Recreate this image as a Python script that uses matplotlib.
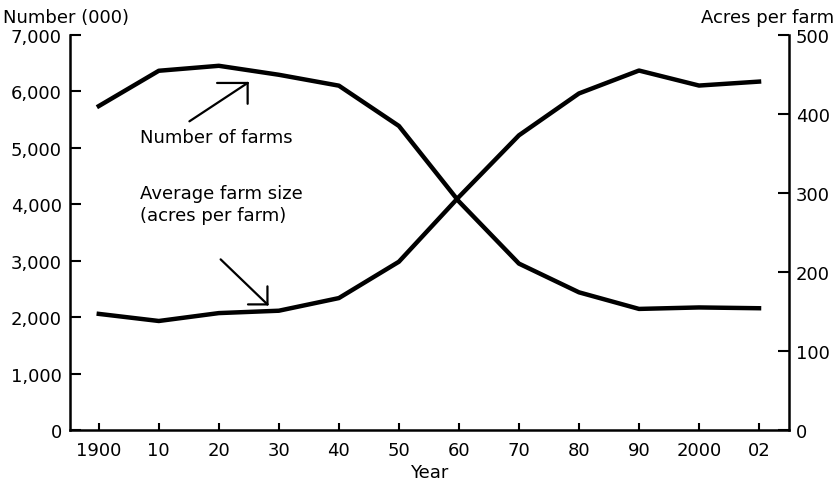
import matplotlib
matplotlib.use("Agg")
import matplotlib.pyplot as plt

years = ["1900", "10", "20", "30", "40", "50", "60", "70", "80", "90", "2000", "02"]
num_farms = [5740, 6366, 6454, 6295, 6102, 5388, 4050, 2949, 2440, 2146, 2172, 2158]
farm_size = [147, 138, 148, 151, 167, 213, 295, 373, 426, 455, 436, 441]

plt.rcParams['font.family'] = ['DejaVu Sans']
FS = 13

fig = plt.figure(figsize=(8.37, 4.85), dpi=100)
ax = fig.add_axes([0.0836, 0.1113, 0.8591, 0.8145])
ax2 = ax.twinx()

x = list(range(len(years)))
ax.plot(x, num_farms, color='black', lw=3.2, solid_joinstyle='round')
ax2.plot(x, farm_size, color='black', lw=3.2, solid_joinstyle='round')

ax.set_xlim(-0.48, 11.5)
ax.set_ylim(0, 7000)
ax2.set_ylim(0, 500)

ax.set_xticks(x)
ax.set_xticklabels(years)
ax.set_yticks(range(0, 7001, 1000))
ax.set_yticklabels([f"{v:,}" for v in range(0, 7001, 1000)])
ax2.set_yticks(range(0, 501, 100))

for a in (ax, ax2):
    a.spines['top'].set_visible(False)
    for s in a.spines.values():
        s.set_linewidth(1.8)
ax.spines['right'].set_visible(False)
ax2.spines['left'].set_visible(False)
ax2.spines['bottom'].set_visible(False)

ax.tick_params(axis='y', direction='in', length=8, width=1.5, labelsize=FS, pad=6)
ax.tick_params(axis='x', direction='in', length=5, width=1.5, labelsize=FS, pad=8)
ax2.tick_params(axis='y', direction='in', length=8, width=1.5, labelsize=FS, pad=5)

ax.set_xlabel("Year", fontsize=FS, labelpad=3)
fig.text(0.004, 0.963, "Number (000)", fontsize=FS, ha='left', va='center')
fig.text(0.997, 0.963, "Acres per farm", fontsize=FS, ha='right', va='center')

# annotation labels with right-angle arrow heads
ax.text(0.69, 5200, "Number of farms", fontsize=FS, ha='left', va='center')
ax2.text(0.69, 286, "Average farm size\n(acres per farm)", fontsize=FS, ha='left', va='center',
         linespacing=1.25)

line = dict(arrowstyle='-', color='black', lw=1.6, shrinkA=0, shrinkB=0)
tip1 = (2.48, 6150)
ax.annotate("", xy=tip1, xytext=(1.51, 5470), arrowprops=line)
ax.annotate("", xy=tip1, xytext=(-22, 0), textcoords='offset points', arrowprops=line)
ax.annotate("", xy=tip1, xytext=(0, -15), textcoords='offset points', arrowprops=line)

tip2 = (2.81, 159)
ax2.annotate("", xy=tip2, xytext=(2.03, 216), arrowprops=line)
ax2.annotate("", xy=tip2, xytext=(-14, 0), textcoords='offset points', arrowprops=line)
ax2.annotate("", xy=tip2, xytext=(0, 13), textcoords='offset points', arrowprops=line)

fig.savefig("out.png", dpi=100)
